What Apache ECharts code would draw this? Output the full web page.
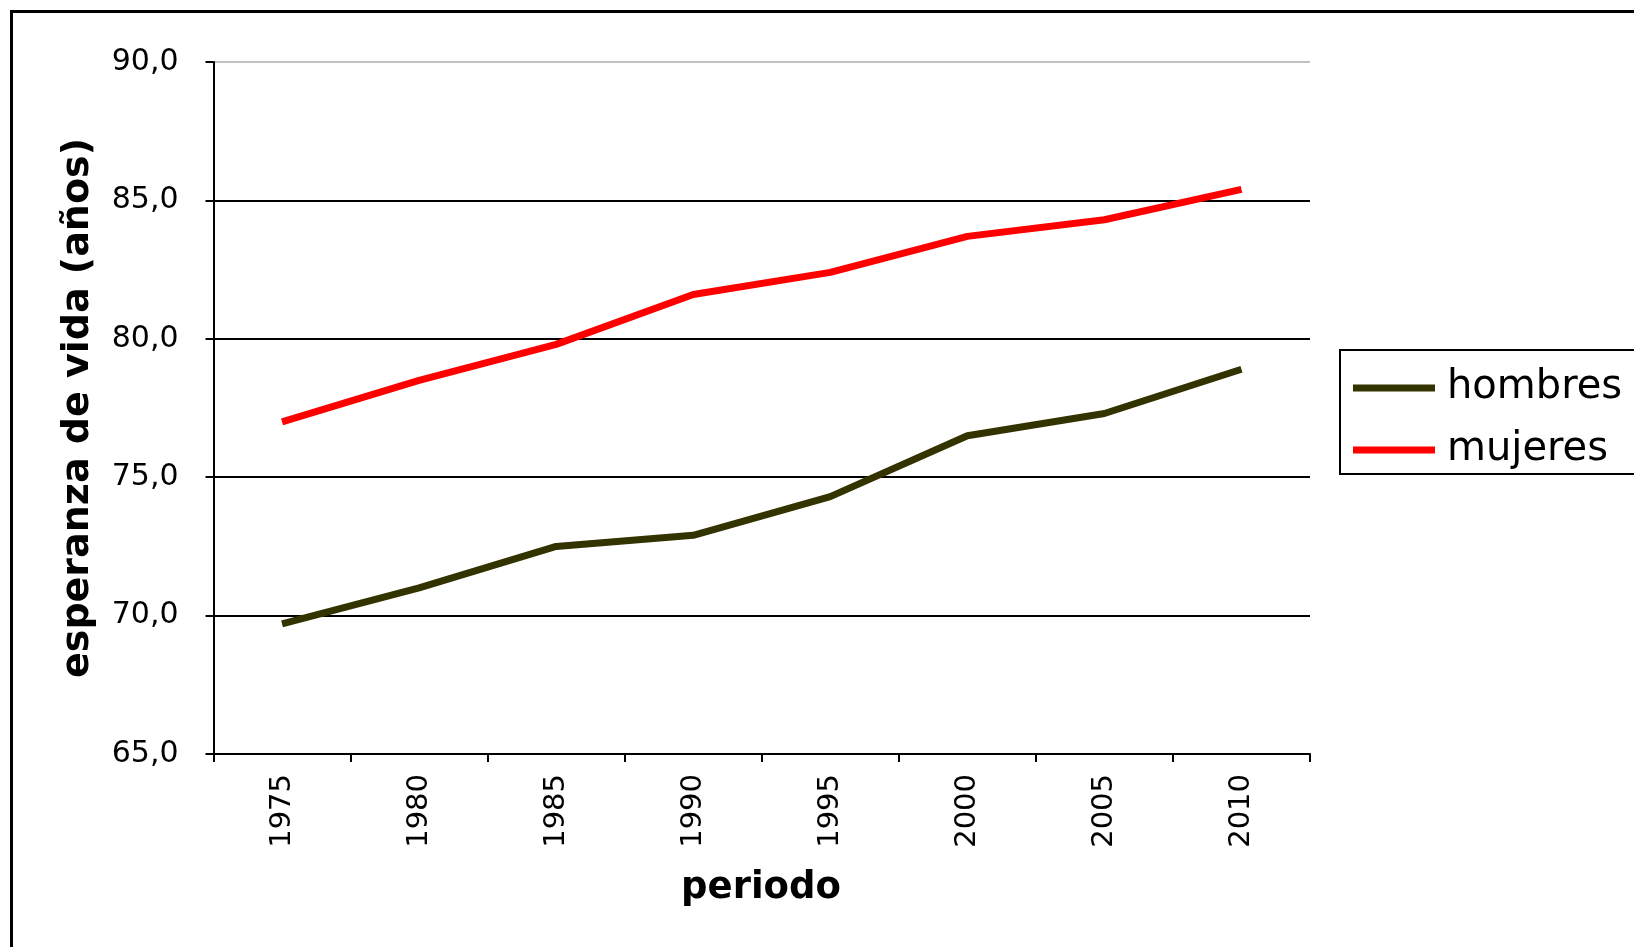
<!DOCTYPE html>
<html>
<head>
<meta charset="utf-8">
<script src="https://cdn.jsdelivr.net/npm/echarts@6/dist/echarts.min.js"></script>
<style>
html,body{margin:0;padding:0;background:#fff;}
#chart{width:1634px;height:947px;}
</style>
</head>
<body>
<div id="chart"></div>
<script>
const periods = ['1975','1980','1985','1990','1995','2000','2005','2010'];
const hombres = [69.7, 71.0, 72.5, 72.9, 74.3, 76.5, 77.3, 78.9];
const mujeres = [77.0, 78.5, 79.8, 81.6, 82.4, 83.7, 84.3, 85.4];
const yTicks = { min: 65, max: 90, interval: 5 };

const chart = echarts.init(document.getElementById('chart'), null, {renderer: 'canvas'});
const fontFam = '"DejaVu Sans", Verdana, sans-serif';
chart.setOption({
  animation: false,
  backgroundColor: '#fff',
  grid: { left: 213.5, right: 324, top: 62, bottom: 193, containLabel: false },
  xAxis: {
    type: 'category',
    data: periods,
    boundaryGap: true,
    axisLine: { lineStyle: { color: '#000', width: 2 } },
    axisTick: { show: true, alignWithLabel: false, length: 8, lineStyle: { color: '#000', width: 2 } },
    axisLabel: { rotate: 90, margin: 20, color: '#000', fontSize: 29, fontFamily: fontFam },
    splitLine: { show: false }
  },
  yAxis: {
    type: 'value',
    min: yTicks.min, max: yTicks.max, interval: yTicks.interval,
    axisLine: { show: true, lineStyle: { color: '#000', width: 2 } },
    axisTick: { show: true, length: 8, lineStyle: { color: '#000', width: 2 } },
    axisLabel: {
      margin: 35, color: '#000', fontSize: 30, fontFamily: fontFam,
      formatter: v => v.toFixed(1).replace('.', ',')
    },
    splitLine: { show: true, lineStyle: { color: ['#000','#000','#000','#000','#000','#c0c0c0'], width: 2 } }
  },
  legend: {
    left: 1340, top: 350,
    orient: 'vertical',
    backgroundColor: '#fff',
    borderColor: '#000', borderWidth: 2, borderRadius: 0,
    padding: [18, 14, 4, 13],
    itemWidth: 82, itemHeight: 7, itemGap: 22,
    icon: 'rect',
    textStyle: { fontSize: 40, fontFamily: fontFam, color: '#000', lineHeight: 40, padding: [0, 0, 0, 7] },
    data: ['hombres', 'mujeres']
  },
  series: [
    { name: 'hombres', type: 'line', data: hombres, symbol: 'none', color: '#333300',
      lineStyle: { width: 7, color: '#333300', cap: 'butt', join: 'round' } },
    { name: 'mujeres', type: 'line', data: mujeres, symbol: 'none', color: '#ff0000',
      lineStyle: { width: 7, color: '#ff0000', cap: 'butt', join: 'round' } }
  ],
  graphic: [
    { type: 'rect', shape: { x: 11.5, y: 11.5, width: 1700, height: 1000 }, style: { fill: 'none', stroke: '#000', lineWidth: 3 }, silent: true, z: 100 },
    { type: 'text', x: 78, y: 408, rotation: Math.PI / 2,
      style: { text: 'esperanza de vida (años)', font: 'bold 38px "DejaVu Sans", Verdana, sans-serif', fill: '#000', align: 'center', verticalAlign: 'middle' } },
    { type: 'text', x: 761, y: 888,
      style: { text: 'periodo', font: 'bold 37px "DejaVu Sans", Verdana, sans-serif', fill: '#000', align: 'center', verticalAlign: 'middle' } }
  ]
});
</script>
</body>
</html>
